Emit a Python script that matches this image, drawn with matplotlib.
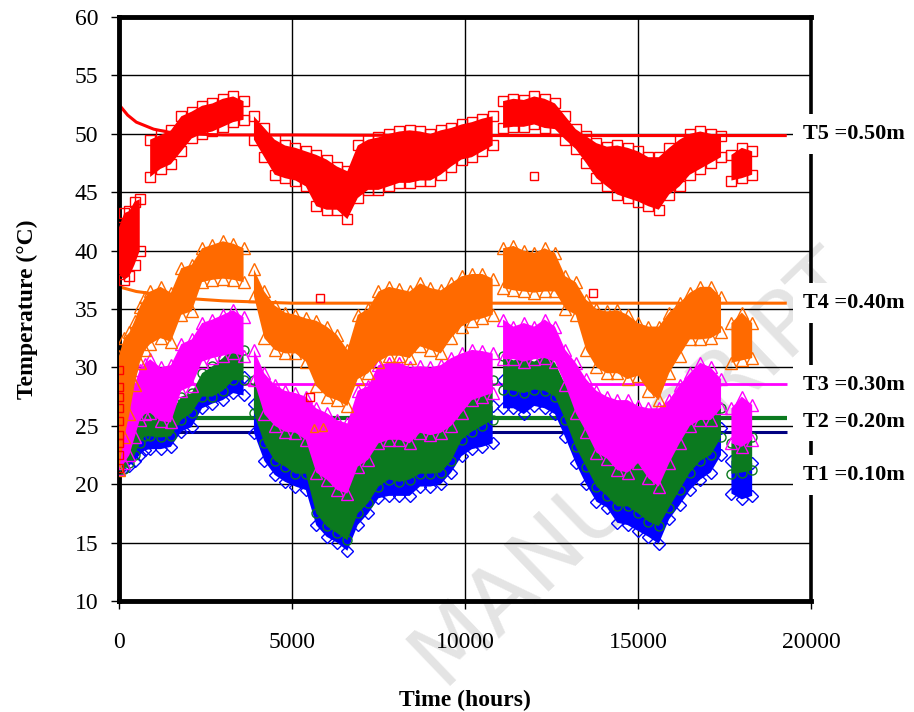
import numpy as np
import matplotlib
matplotlib.use('Agg')
import matplotlib.pyplot as plt
import matplotlib.transforms as mtransforms

nan = np.nan

# ─── DATOS ───────────────────────────────────────────────────────────────────
TIME = [0, 150, 300, 450, 600, 750, 900, 1200, 1500, 1800, 2100, 2400, 2700, 3000, 3300, 3600, 3750,
        3900, 4200, 4500, 4800, 5100, 5400, 5700, 6000, 6300, 6600, 6900, 7200, 7500, 7800, 8100, 8400,
        8700, 9000, 9300, 9600, 9900, 10200, 10500, 10800, 10950,
        11100, 11400, 11700, 12000, 12300, 12600, 12900, 13200, 13500, 13800, 14100, 14400, 14700,
        15000, 15300, 15600, 15900, 16200, 16500, 16800, 17100, 17400, 17550,
        17700, 18000, 18300]

T5_LO = [38.0, 37.5, 37.8, 38.8, 40.0, nan, 46.3, 47.0, 47.4, 48.5, 49.6, 50.0, 50.2, 50.6, 51.0, 51.2, nan,
         49.5, 48.0, 46.5, 46.2, 46.0, 45.5, 43.8, 43.5, 43.5, 42.7, 44.5, 45.2, 45.2, 45.5, 45.8, 45.8,
         46.0, 46.0, 46.5, 47.2, 47.8, 48.0, 48.5, 49.0, nan,
         50.5, 50.6, 50.6, 50.8, 50.5, 50.4, 49.5, 48.7, 47.5, 46.2, 45.5, 44.8, 44.5,
         44.2, 43.8, 43.5, 44.8, 45.5, 46.5, 47.0, 47.5, 48.0, nan,
         46.0, 46.2, 46.5]
T5_HI = [42.0, 43.2, 43.4, 44.2, 44.4, nan, 49.5, 49.9, 50.3, 51.5, 51.9, 52.4, 52.6, 53.0, 53.2, 52.8, nan,
         51.5, 50.5, 49.5, 49.0, 48.8, 48.5, 48.2, 47.8, 47.2, 46.8, 49.0, 49.5, 49.7, 50.0, 50.2, 50.3,
         50.2, 50.0, 50.3, 50.5, 50.8, 51.0, 51.3, 51.5, nan,
         52.8, 53.0, 52.9, 53.2, 53.0, 52.6, 51.5, 50.4, 49.8, 49.2, 48.9, 49.0, 48.8,
         48.5, 48.0, 48.0, 48.8, 49.5, 50.0, 50.2, 50.0, 49.8, nan,
         48.2, 48.8, 48.5]

T4_LO = [21.2, 24.0, 26.0, 28.5, 30.4, 31.5, 32.0, 32.5, 32.2, 34.5, 34.8, 37.3, 37.5, 37.6, 37.5, 37.3, nan,
         36.1, 32.5, 31.5, 31.2, 31.2, 30.5, 28.4, 27.5, 27.2, 26.7, 29.0, 29.5, 30.5, 31.0, 31.0, 30.8,
         31.8, 31.5, 31.2, 32.5, 33.5, 34.0, 34.2, 34.5, nan,
         36.8, 36.6, 36.5, 36.4, 36.5, 36.5, 35.0, 34.5, 31.5, 30.0, 29.5, 29.5, 29.0,
         29.3, 28.0, 27.2, 29.5, 31.0, 32.4, 32.4, 32.5, 33.0, nan,
         30.4, 30.6, 30.8]
T4_HI = [31.0, 32.5, 33.0, 34.0, 35.2, 36.0, 36.5, 36.9, 36.4, 38.5, 38.8, 40.2, 40.5, 40.8, 40.6, 40.2, nan,
         38.4, 36.5, 35.3, 34.7, 34.5, 34.2, 34.0, 33.5, 32.8, 31.5, 34.5, 35.0, 36.5, 36.9, 36.7, 36.5,
         37.2, 36.8, 36.6, 37.2, 37.8, 38.0, 38.0, 37.6, nan,
         40.2, 40.4, 40.0, 39.8, 40.2, 39.8, 37.8, 37.3, 35.8, 35.0, 34.8, 34.9, 34.5,
         33.8, 33.5, 33.5, 34.7, 35.5, 36.4, 36.9, 36.9, 36.0, nan,
         33.8, 34.7, 33.8]

T3_LO = [21.3, 21.8, 22.5, 24.0, 25.5, 26.0, 26.1, 25.4, 25.3, 28.0, 28.4, 30.5, 30.8, 31.0, 31.2, 31.0, nan,
         28.9, 26.0, 25.0, 24.5, 24.4, 23.8, 21.0, 20.4, 19.5, 19.2, 21.5, 22.1, 23.5, 23.8, 23.8, 23.5,
         24.4, 24.2, 24.4, 25.0, 26.1, 27.2, 27.5, 27.8, nan,
         30.7, 30.7, 30.5, 30.7, 30.8, 30.5, 28.5, 26.1, 24.5, 22.7, 22.2, 21.2, 21.0,
         21.8, 20.5, 19.8, 21.8, 23.5, 25.0, 25.5, 25.5, 26.5, nan,
         23.5, 23.2, 23.8]
T3_HI = [26.0, 26.4, 27.2, 28.5, 29.8, 30.3, 30.7, 30.0, 30.2, 32.0, 32.4, 33.8, 34.1, 34.5, 34.9, 34.3, nan,
         31.5, 29.5, 28.5, 28.0, 27.8, 27.5, 26.5, 26.1, 25.5, 25.2, 28.0, 28.4, 30.2, 30.4, 30.4, 30.0,
         30.1, 30.0, 30.2, 30.8, 31.2, 31.5, 31.4, 31.2, nan,
         34.1, 33.5, 33.8, 33.5, 34.1, 33.5, 31.5, 30.4, 29.0, 28.0, 27.5, 27.2, 27.2,
         26.7, 26.5, 26.5, 27.2, 28.5, 29.5, 30.4, 30.0, 29.0, nan,
         26.5, 27.5, 26.8]

T2_LO = [21.2, 21.3, 21.8, 22.5, 23.5, 24.1, 24.1, 24.0, 24.1, 25.5, 26.1, 27.5, 27.5, 28.0, 28.9, 28.9, nan,
         26.1, 23.5, 22.0, 21.5, 20.9, 20.9, 17.5, 16.4, 15.8, 15.2, 17.5, 18.4, 19.8, 20.4, 20.2, 20.4,
         20.9, 20.9, 21.0, 22.0, 23.8, 24.5, 25.0, 25.5, nan,
         28.1, 28.0, 27.8, 28.1, 28.0, 27.5, 25.5, 23.2, 21.5, 19.8, 19.0, 18.1, 18.1,
         17.5, 16.8, 16.4, 18.0, 19.5, 21.0, 22.0, 22.5, 24.0, nan,
         20.9, 21.0, 21.2]
T2_HI = [23.2, 23.5, 24.0, 24.8, 25.8, 26.5, 26.7, 26.2, 26.1, 27.5, 27.8, 29.5, 30.1, 30.8, 31.8, 31.5, nan,
         28.9, 27.0, 26.0, 25.0, 24.4, 24.4, 23.2, 23.0, 22.7, 22.7, 24.5, 24.7, 26.0, 26.1, 26.0, 25.8,
         26.1, 26.0, 26.1, 26.8, 27.8, 28.2, 28.9, 28.9, nan,
         31.0, 30.6, 30.8, 30.5, 31.0, 30.4, 28.5, 27.5, 26.0, 24.7, 24.0, 23.5, 23.2,
         23.2, 23.0, 23.0, 23.8, 24.8, 26.0, 27.0, 27.5, 26.5, nan,
         23.5, 24.5, 24.0]

T1_LO = [21.2, 21.4, 21.6, 22.0, 22.5, 22.9, 23.0, 23.0, 23.2, 24.5, 24.9, 26.5, 26.9, 27.2, 27.8, 27.6, nan,
         24.4, 22.0, 20.8, 20.2, 19.8, 19.5, 16.5, 15.5, 15.0, 14.3, 16.5, 17.5, 18.8, 19.0, 19.0, 19.0,
         19.8, 19.8, 20.0, 21.0, 22.4, 23.0, 23.2, 23.5, nan,
         26.5, 26.5, 26.0, 26.7, 26.5, 26.0, 24.0, 21.8, 20.0, 18.5, 18.0, 16.7, 16.5,
         16.0, 15.5, 14.9, 17.0, 18.2, 19.5, 20.4, 21.0, 22.5, nan,
         19.2, 18.7, 19.0]
T1_HI = [22.0, 22.5, 23.0, 23.6, 24.0, 24.4, 24.6, 24.5, 24.7, 26.2, 26.7, 28.2, 28.4, 29.0, 29.5, 29.2, nan,
         26.9, 25.0, 24.0, 23.2, 22.6, 22.4, 21.0, 20.4, 19.6, 19.2, 21.0, 21.5, 22.7, 22.8, 22.7, 22.5,
         23.2, 23.0, 23.2, 24.0, 24.7, 25.5, 26.0, 26.7, nan,
         28.9, 28.5, 28.6, 28.5, 28.9, 28.3, 26.5, 25.2, 23.8, 22.5, 21.8, 21.3, 21.0,
         20.9, 20.7, 20.5, 21.8, 22.8, 23.8, 24.7, 25.2, 24.8, nan,
         22.0, 22.5, 21.8]

# puntos aislados (arranque y valores sueltos)
T5_START = [21.4, 22.5, 23.5, 24.2, 25.4, 26.5, 27.5, 28.3, 29.8]
T5_OUT_T = [5520, 5810, 12000, 13700]
T5_OUT_V = [27.5, 35.9, 46.4, 36.4]
T4_OUT_T = [5650, 5900]
T4_OUT_V = [24.8, 24.9]

# modelo
MODEL_TIME = [0, 0, 250, 500, 1000, 1500, 2000, 3000, 5000, 10000, 15000, 19300]
T5_MODEL = [21.3, 52.5, 51.6, 51.0, 50.4, 50.1, 50.0, 49.9, 49.9, 49.85, 49.85, 49.85]
T4_MODEL = [21.3, 36.9, 36.7, 36.5, 36.3, 36.1, 35.9, 35.7, 35.5, 35.5, 35.5, 35.5]
T3_MODEL = [21.3] + [28.6] * 11
T2_MODEL = [21.3] + [25.7] * 11
T1_MODEL = [21.3] + [24.5] * 11

LABELS = ['T5 =0.50m', 'T4 =0.40m', 'T3 =0.30m', 'T2 =0.20m', 'T1 =0.10m']
LABEL_Y = [50.0, 35.5, 28.5, 25.35, 20.8]

# ─── GRÁFICO ─────────────────────────────────────────────────────────────────
SERIF = 'Liberation Serif'
fig = plt.figure(figsize=(9.14, 7.12), dpi=100)
ax = fig.add_axes([0.1302, 0.1559, 0.7571, 0.8202])
ax.set_facecolor('none')

# marca de agua
fig.text(0.695, 0.345, 'MANUSCRIPT', rotation=43.8, rotation_mode='anchor',
         ha='center', va='center', fontsize=64, color='#e4e4e4',
         family='DejaVu Sans', zorder=-5)

t = np.array(TIME)
series = [
    (T1_LO, T1_HI, '#0000ff', 'D', 6, 2),
    (T2_LO, T2_HI, '#0b7a1f', 'o', 6.5, 3),
    (T3_LO, T3_HI, '#ff00ff', '^', 8, 4),
    (T4_LO, T4_HI, '#ff6a00', '^', 8, 5),
    (T5_LO, T5_HI, '#ff0000', 's', 6.5, 6),
]
models = [
    (T1_MODEL, '#000080', 2.2),
    (T2_MODEL, '#0b7a1f', 3.0),
    (T3_MODEL, '#ff00ff', 2.0),
    (T4_MODEL, '#ff6a00', 2.2),
    (T5_MODEL, '#ff0000', 2.2),
]
for vals, col, lw in models:
    ax.plot(MODEL_TIME, vals, color=col, lw=lw, zorder=1.5, solid_capstyle='butt')

for lo, hi, col, mk, ms, z in series:
    lo = np.array(lo)
    hi = np.array(hi)
    ax.fill_between(t, lo, hi, color=col, lw=0, zorder=z)
    for v in (lo, hi):
        ax.plot(t, v, ls='none', marker=mk, ms=ms, mfc='none', mec=col, mew=1.0, zorder=z)

ax.plot([0] * len(T5_START), T5_START, ls='none', marker='s', ms=6, mfc='none',
        mec='#ff0000', mew=1.0, zorder=7)
ax.plot(T5_OUT_T, T5_OUT_V, ls='none', marker='s', ms=6, mfc='none', mec='#ff0000', mew=1.0, zorder=7)
ax.plot(T4_OUT_T, T4_OUT_V, ls='none', marker='^', ms=6, mfc='none', mec='#ff6a00', mew=1.0, zorder=7)

ax.set_xlim(0, 20000)
ax.set_ylim(10, 60)
ax.set_xticks(range(0, 20001, 5000))
ax.set_yticks(range(10, 61, 5))
ax.grid(True, color='black', lw=1.0, zorder=0.5)
ax.set_axisbelow(True)

for side in ['left', 'top', 'bottom']:
    ax.spines[side].set_linewidth(3.5)
ax.spines['right'].set_linewidth(2.6)

ax.tick_params(axis='both', direction='out', length=6, width=1.0, labelsize=17)
ax.tick_params(axis='x', pad=16)
ax.tick_params(axis='y', pad=9)
for lab in ax.get_xticklabels() + ax.get_yticklabels():
    lab.set_family(SERIF)

ax.set_xlabel('Time (hours)', family=SERIF, fontsize=17, fontweight='bold', labelpad=27)
ax.set_ylabel('Temperature (°C)', family=SERIF, fontsize=17, fontweight='bold', labelpad=26)

trans = mtransforms.blended_transform_factory(ax.transAxes, ax.transData)
for txt, y in zip(LABELS, LABEL_Y):
    ax.text(0.988, y, txt, transform=trans, ha='left', va='center', family=SERIF,
            fontsize=16, fontweight='bold', clip_on=False, zorder=20,
            bbox=dict(facecolor='white', edgecolor='none', pad=7))

fig.savefig('out.png', dpi=100)
